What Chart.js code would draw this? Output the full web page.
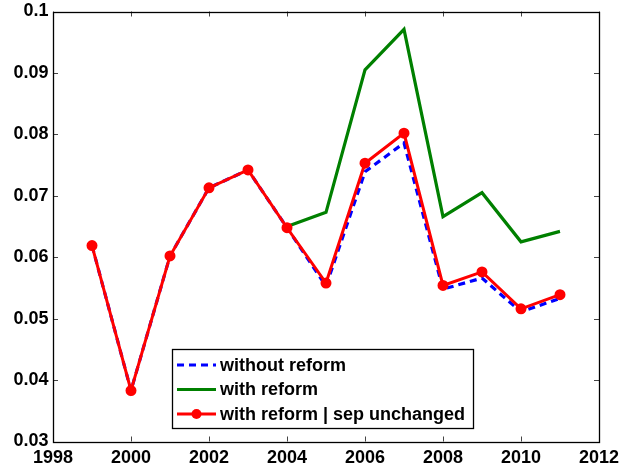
<!DOCTYPE html>
<html>
<head>
<meta charset="utf-8">
<script src="https://cdn.jsdelivr.net/npm/chart.js@4"></script>
<style>
  html, body { margin: 0; padding: 0; background: #fff; }
  #wrap { width: 619px; height: 469px; }
</style>
</head>
<body>
<div id="wrap"><canvas id="chart" width="619" height="469"></canvas></div>
<script>
const years = [1999, 2000, 2001, 2002, 2003, 2004, 2005, 2006, 2007, 2008, 2009, 2010, 2011]
const withoutReform = [0.0619, 0.0383, 0.0602, 0.0713, 0.0742, 0.0648, 0.0553, 0.0739, 0.0786, 0.0548, 0.0566, 0.0511, 0.0533]
const withReform = [null, null, null, null, null, 0.0650, 0.0673, 0.0905, 0.0971, 0.0666, 0.0705, 0.0625, 0.0642]
const sepUnchanged = [0.0619, 0.0383, 0.0602, 0.0713, 0.0742, 0.0648, 0.0558, 0.0753, 0.0802, 0.0554, 0.0576, 0.0516, 0.0539]
const seriesLabels = ['without reform', 'with reform', 'with reform | sep unchanged']
const xTicks = [1998, 2000, 2002, 2004, 2006, 2008, 2010, 2012]
const yTicks = [0.03, 0.04, 0.05, 0.06, 0.07, 0.08, 0.09, 0.1]

const FONT = { family: '"Liberation Sans", Arial, sans-serif', size: 18, weight: 'bold' }
const toPoints = vals => years.map((x, i) => ({ x: x, y: vals[i] }))

// matlab style box + inward ticks
const boxPlugin = {
    id: 'box',
    afterDraw(chart) {
        const { ctx, chartArea: a, scales } = chart
        ctx.save()
        ctx.strokeStyle = '#444'
        ctx.lineWidth = 1
        ctx.beginPath()
        xTicks.forEach(v => {
            const x = Math.round(scales.x.getPixelForValue(v)) + 0.5
            ctx.moveTo(x, a.bottom); ctx.lineTo(x, a.bottom - 5)
            ctx.moveTo(x, a.top); ctx.lineTo(x, a.top + 5)
        })
        yTicks.forEach(v => {
            const y = Math.round(scales.y.getPixelForValue(v)) + 0.5
            ctx.moveTo(a.left, y); ctx.lineTo(a.left + 5, y)
            ctx.moveTo(a.right, y); ctx.lineTo(a.right - 5, y)
        })
        ctx.stroke()
        ctx.strokeStyle = '#000'
        ctx.lineWidth = 1.3
        ctx.strokeRect(Math.round(a.left) + 0.5, Math.round(a.top) + 0.5, Math.round(a.right - a.left), Math.round(a.bottom - a.top))
        ctx.restore()
    }
}

const legendPlugin = {
    id: 'boxLegend',
    afterDraw(chart) {
        const ctx = chart.ctx
        const left = 172, top = 349, w = 301, h = 79
        ctx.save()
        ctx.fillStyle = '#fff'
        ctx.fillRect(left, top, w, h)
        ctx.strokeStyle = '#000'
        ctx.lineWidth = 1.3
        ctx.strokeRect(left + 0.5, top + 0.5, w, h)
        ctx.font = 'bold 18px "Liberation Sans", Arial, sans-serif'
        ctx.textBaseline = 'middle'
        const rows = [365, 389.5, 414]
        chart.data.datasets.slice().sort((p, q) => p.legendIndex - q.legendIndex).forEach((ds, i) => {
            const y = rows[i]
            ctx.strokeStyle = ds.borderColor
            ctx.lineWidth = 3
            ctx.setLineDash(ds.borderDash || [])
            ctx.beginPath()
            ctx.moveTo(177, y); ctx.lineTo(216, y)
            ctx.stroke()
            ctx.setLineDash([])
            if (ds.pointRadius > 0) {
                ctx.fillStyle = ds.borderColor
                ctx.beginPath()
                ctx.arc(196.5, y, 5, 0, Math.PI * 2)
                ctx.fill()
            }
            ctx.fillStyle = '#000'
            ctx.fillText(ds.label, 220, y + 1)
        })
        ctx.restore()
    }
}

new Chart(document.getElementById('chart').getContext('2d'), {
    type: 'line',
    data: {
        datasets: [
            {
                label: seriesLabels[2], legendIndex: 2, order: 0,
                data: toPoints(sepUnchanged),
                borderColor: '#ff0000', backgroundColor: '#ff0000',
                borderWidth: 3, pointRadius: 4.5, pointBorderWidth: 2,
                pointBackgroundColor: '#ff0000', pointBorderColor: '#ff0000'
            },
            {
                label: seriesLabels[1], legendIndex: 1, order: 1,
                data: toPoints(withReform),
                borderColor: '#008000', borderWidth: 3.2, pointRadius: 0
            },
            {
                label: seriesLabels[0], legendIndex: 0, order: 2,
                data: toPoints(withoutReform),
                borderColor: '#0000ff', borderWidth: 3.2, borderDash: [7, 5], pointRadius: 0
            }
        ]
    },
    options: {
        responsive: false,
        animation: false,
        spanGaps: false,
        layout: { padding: { left: 0, right: 20, top: 11.5, bottom: 0 } },
        plugins: { legend: { display: false }, tooltip: { enabled: false } },
        scales: {
            x: {
                type: 'linear', min: 1998, max: 2012,
                grid: { display: false, drawTicks: false },
                border: { display: false },
                afterBuildTicks: s => { s.ticks = xTicks.map(v => ({ value: v })) },
                afterFit: s => { s.height = 27.5; s.paddingLeft = 0; s.paddingRight = 0 },
                ticks: {
                    color: '#000', font: FONT, padding: 6, maxRotation: 0, autoSkip: false,
                    callback: v => String(v)
                }
            },
            y: {
                type: 'linear', min: 0.03, max: 0.1,
                grid: { display: false, drawTicks: false },
                border: { display: false },
                afterBuildTicks: s => { s.ticks = yTicks.map(v => ({ value: v })) },
                afterFit: s => { s.width = 53; s.paddingTop = 0; s.paddingBottom = 0 },
                ticks: {
                    color: '#000', font: FONT, padding: 4.5,
                    callback: v => String(Number(v.toFixed(2)))
                }
            }
        }
    },
    plugins: [boxPlugin, legendPlugin]
})
</script>
</body>
</html>
